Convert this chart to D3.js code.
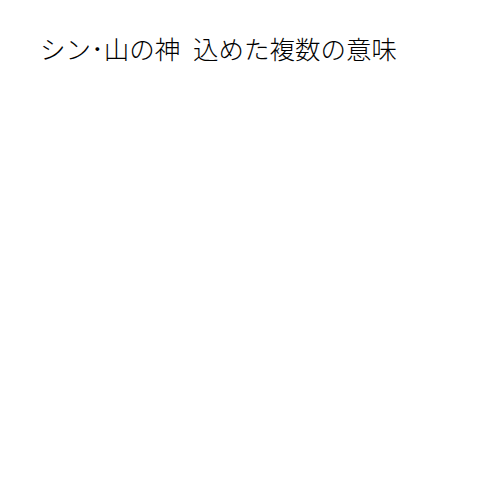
<!DOCTYPE html>
<html>
<head>
<meta charset="utf-8">
<script src="https://cdn.jsdelivr.net/npm/d3@7"></script>
<style>
  body { margin: 0; background: #fff; }
</style>
</head>
<body>
<div id="chart"></div>
<script>
// Chart content (the reference has a title only, no marks)
const titleText = ["シン･山の神 込めた複数の意味"];
const categories = [];
const values = [];

const width = 500, height = 500;

var svg = d3.select("#chart").append("svg")
    .attr("width", width)
    .attr("height", height);

svg.append("rect")
    .attr("width", width)
    .attr("height", height)
    .attr("fill", "#ffffff");

// Title
svg.selectAll("text.title")
    .data(titleText)
    .enter().append("text")
    .attr("class", "title")
    .attr("x", 40)
    .attr("y", 59)
    .style("font-family", "'Noto Sans CJK JP', sans-serif")
    .style("font-size", "25.5px")
    .style("font-weight", "300")
    .style("word-spacing", "7px")
    .style("fill", "#000")
    .text(d => d);
</script>
</body>
</html>
